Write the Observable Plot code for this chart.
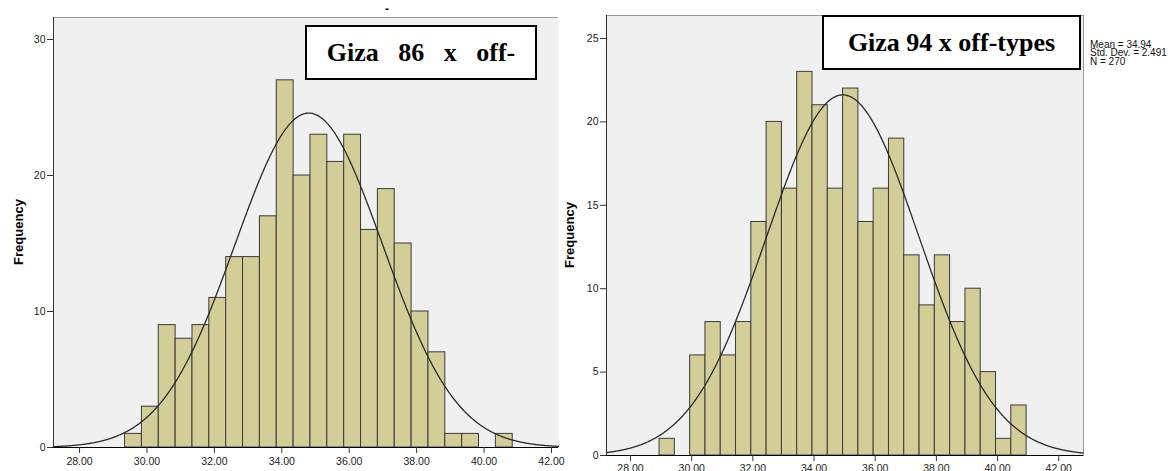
<!DOCTYPE html>
<html><head><meta charset="utf-8">
<script src="https://cdn.jsdelivr.net/npm/d3@7"></script>
<script src="https://cdn.jsdelivr.net/npm/@observablehq/plot@0.6"></script>
<style>
body{margin:0;background:#fff;width:1174px;height:471px;overflow:hidden;position:relative;font-family:"Liberation Sans",Arial,sans-serif}
.panel{position:absolute;top:0}
.title{position:absolute;box-sizing:border-box;border:2px solid #000;background:#fff;font-family:"Liberation Serif","Times New Roman",serif;font-weight:bold;font-size:26px;white-space:pre;display:flex;align-items:center;justify-content:center;color:#000}
.ylab{position:absolute;font-weight:bold;font-size:13px;transform:translate(-50%,-50%) rotate(-90deg);white-space:nowrap;color:#000}
.stats{position:absolute;font-size:10px;line-height:8.3px;white-space:pre;color:#111}
</style></head><body>
<script>
// ---- Data ----
const binWidth = 0.5;
const leftFirstEdge = 29.35;
const leftCounts = [1,3,9,8,9,11,14,14,17,27,20,23,21,23,16,19,15,10,7,1,1,0,1];
const leftMean = 34.80, leftSD = 2.19, leftN = 270;
const leftTitle = "Giza   86   x   off-";

const rightFirstEdge = 28.95;
const rightCounts = [1,0,6,8,6,8,14,20,16,23,21,16,22,14,16,19,12,9,12,8,10,5,1,3];
const rightMean = 34.94, rightSD = 2.491, rightN = 270;
const rightTitle = "Giza 94 x off-types";
const rightStats = ["Mean = 34.94", "Std. Dev. = 2.491", "N = 270"];

const xTickValues = [28,30,32,34,36,38,40,42];
const leftYTicks = [0,10,20,30];
const rightYTicks = [0,5,10,15,20,25];
const yLabel = "Frequency";

function makePanel(o){
  const bins = o.counts.map((c,i)=>({x1:o.first+i*binWidth, x2:o.first+(i+1)*binWidth, y:c})).filter(d=>d.y>0);
  const pts = d3.range(o.xDomain[0], o.xDomain[1]+1e-9, 0.02).map(x=>({x, y:o.n*binWidth*Math.exp(-0.5*((x-o.mean)/o.sd)**2)/(o.sd*Math.sqrt(2*Math.PI))}));
  const marks = [
    Plot.frame({fill:"#f0f0f0", stroke:o.rightBorder?"#9a9a9a":null}),
    Plot.ruleY([o.yDomain[1]], {stroke:"#9a9a9a"}),
    Plot.rect(bins, {x1:"x1", x2:"x2", y1:0, y2:"y", fill:"#d3ce98", stroke:"#3a3a3a", strokeWidth:1, inset:0}),
    Plot.line(pts, {x:"x", y:"y", stroke:"#2a2a2a", strokeWidth:1.3}),
    Plot.ruleX([o.xDomain[0]], {stroke:"#333"}),
    Plot.ruleY([0], {stroke:"#000"}),
    Plot.axisX({ticks:xTickValues, tickFormat:d3.format(".2f"), tickSize:6, tickPadding:o.xPad, label:null, stroke:"#333", fill:"#222"}),
    Plot.axisY({ticks:o.yTicks, tickSize:6, tickPadding:2, label:null, stroke:"#333", fill:"#222"})
  ];
  return Plot.plot({
    width:o.width, height:471,
    marginLeft:o.ml, marginRight:o.mr, marginTop:o.mt, marginBottom:o.mb,
    x:{domain:o.xDomain}, y:{domain:o.yDomain},
    style:{fontFamily:'"Liberation Sans",Arial,sans-serif', fontSize:"10.5px", background:"transparent", overflow:"visible"},
    marks
  });
}

const left = makePanel({counts:leftCounts, first:leftFirstEdge, mean:leftMean, sd:leftSD, n:leftN,
  xDomain:[27.227,42.208], yDomain:[0,31.62], yTicks:leftYTicks, width:560, ml:53, mr:2, mt:17, mb:24, xPad:4, rightBorder:false});
left.classList.add("panel"); left.style.left="0px";
document.body.appendChild(left);

const right = makePanel({counts:rightCounts, first:rightFirstEdge, mean:rightMean, sd:rightSD, n:rightN,
  xDomain:[27.215,42.81], yDomain:[0,26.38], yTicks:rightYTicks, width:614, ml:46, mr:91, mt:15, mb:16, xPad:3, rightBorder:true});
right.classList.add("panel"); right.style.left="560px";
document.body.appendChild(right);

function addDiv(cls, text, css){
  const d=document.createElement("div"); d.className=cls; d.textContent=text;
  Object.assign(d.style, css); document.body.appendChild(d); return d;
}
addDiv("title", leftTitle, {left:"305px", top:"25px", width:"232px", height:"55px"});
addDiv("title", rightTitle, {left:"822px", top:"15px", width:"259px", height:"55px"});
addDiv("ylab", yLabel, {left:"18px", top:"232px"});
addDiv("ylab", yLabel, {left:"569px", top:"235px"});
addDiv("stats", rightStats.join("\n"), {left:"1090px", top:"41px"});
addDiv("stats", "-", {left:"385px", top:"2px", fontSize:"12px", lineHeight:"14px", fontWeight:"bold"});
</script>
</body></html>
